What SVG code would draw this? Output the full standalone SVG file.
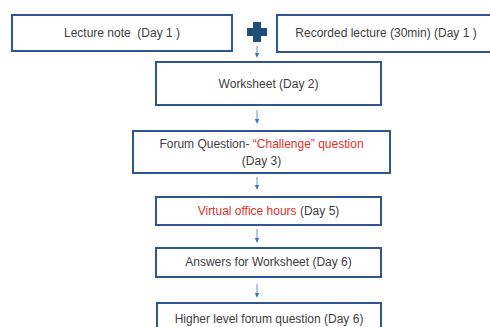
<svg xmlns="http://www.w3.org/2000/svg" width="490" height="327" viewBox="0 0 490 327">
<defs>
<marker id="ah" markerWidth="6" markerHeight="6" refX="3" refY="3" orient="auto" markerUnits="userSpaceOnUse">
<path d="M0,0.8 L5,3 L0,5.2 Z" fill="#4472C4"/>
</marker>
</defs>
<style>
.box{fill:#fff;stroke:#2F5597;stroke-width:2}
.t{font-family:"Liberation Sans",Arial,sans-serif;font-size:12px;fill:#404040;text-anchor:middle;dominant-baseline:central;white-space:pre}
.r{fill:#E0302A}
.c{stroke:#4472C4;stroke-width:0.8;fill:none;marker-end:url(#ah)}
</style>
<rect width="490" height="327" fill="#fff"/>
<g id="lecture-note">
<rect class="box" x="12" y="15" width="220" height="36"/>
<text class="t" x="122" y="33" xml:space="preserve">Lecture note  (Day 1 )</text>
</g>
<g id="plus">
<path d="M253,22 H261 V28 H267 V36 H261 V42 H253 V36 H247 V28 H253 Z" fill="#1F4E79"/>
</g>
<g id="recorded-lecture">
<rect class="box" x="277" y="15" width="220" height="37"/>
<text class="t" x="386" y="33">Recorded lecture (30min) (Day 1 )</text>
</g>
<g id="worksheet">
<rect class="box" x="156" y="62" width="225" height="43"/>
<text class="t" x="268.5" y="84">Worksheet (Day 2)</text>
</g>
<g id="forum">
<rect class="box" x="133" y="131" width="257" height="42"/>
<text class="t" x="261.5" y="144">Forum Question- <tspan class="r">“Challenge” question</tspan></text>
<text class="t" x="261.5" y="161">(Day 3)</text>
</g>
<g id="virtual-office">
<rect class="box" x="156" y="197" width="225" height="28"/>
<text class="t" x="268.5" y="211"><tspan class="r">Virtual office hours</tspan> (Day 5)</text>
</g>
<g id="answers">
<rect class="box" x="156" y="248" width="225" height="29"/>
<text class="t" x="268.5" y="262">Answers for Worksheet (Day 6)</text>
</g>
<g id="higher-level">
<rect class="box" x="157" y="303" width="224" height="40"/>
<text class="t" x="269" y="319">Higher level forum question (Day 6)</text>
</g>
<g id="connectors">
<line class="c" x1="257" y1="46" x2="257" y2="56"/>
<line class="c" x1="257" y1="110" x2="257" y2="122"/>
<line class="c" x1="257" y1="177" x2="257" y2="188"/>
<line class="c" x1="257" y1="229" x2="257" y2="241"/>
<line class="c" x1="257" y1="284" x2="257" y2="296"/>
</g>
</svg>
